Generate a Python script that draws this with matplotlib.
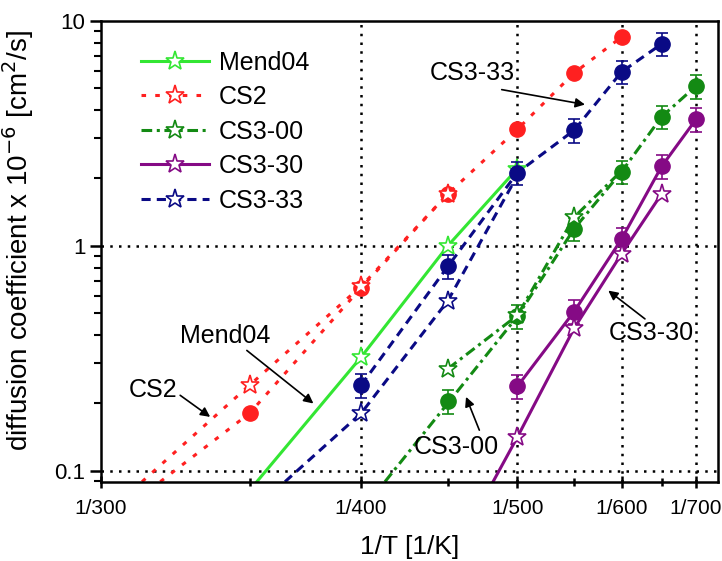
import numpy as np
import matplotlib.pyplot as plt
from matplotlib.ticker import FixedLocator, FixedFormatter, LogLocator, NullFormatter
from matplotlib.lines import Line2D

plt.rcParams['font.family'] = ['Liberation Sans', 'DejaVu Sans']

# x axis: 1/T, ticks at these temperatures
tick_T = [300, 400, 500, 600, 700]
tick_labels = ['1/300', '1/400', '1/500', '1/600', '1/700']
minor_T = [350, 450, 550, 650]
grid_T = [400, 500, 600, 700]
grid_D = [0.1, 1]

# series: circles (with error bars), stars, and the lines through them
names = ['Mend04', 'CS2', 'CS3-00', 'CS3-30', 'CS3-33']
colors = ['#33e633', '#ff2020', '#138a13', '#850a85', '#0a0a85']

circ_T = {
    'CS2': [350, 400, 450, 500, 550, 600],
    'CS3-00': [450, 500, 550, 600, 650, 700],
    'CS3-30': [500, 550, 600, 650, 700],
    'CS3-33': [400, 450, 500, 550, 600, 650],
}
circ_D = {
    'CS2': [0.18, 0.65, 1.7, 3.29, 5.86, 8.46],
    'CS3-00': [0.204, 0.485, 1.19, 2.13, 3.74, 5.12],
    'CS3-30': [0.237, 0.51, 1.07, 2.25, 3.64],
    'CS3-33': [0.24, 0.81, 2.11, 3.26, 5.92, 7.88],
}
star_T = {
    'Mend04': [400, 450, 500],
    'CS2': [350, 400, 450],
    'CS3-00': [450, 500, 550],
    'CS3-30': [500, 550, 600, 650],
    'CS3-33': [400, 450],
}
star_D = {
    'Mend04': [0.32, 1.0, 2.2],
    'CS2': [0.24, 0.66, 1.7],
    'CS3-00': [0.284, 0.49, 1.34],
    'CS3-30': [0.141, 0.43, 0.92, 1.70],
    'CS3-33': [0.18, 0.57],
}
# line paths (first point is where the line leaves the bottom of the frame)
cline_T = {
    'CS2': [318.2, 350, 400, 450, 500, 550, 600],
    'CS3-00': [412.6, 500, 550, 600, 650, 700],
    'CS3-30': [500, 550, 600, 650, 700],
    'CS3-33': [400, 450, 500, 550, 600, 650],
}
cline_D = {
    'CS2': [0.0894, 0.18, 0.65, 1.7, 3.29, 5.86, 8.46],
    'CS3-00': [0.0894, 0.485, 1.19, 2.13, 3.74, 5.12],
    'CS3-30': [0.237, 0.51, 1.07, 2.25, 3.64],
    'CS3-33': [0.24, 0.81, 2.11, 3.26, 5.92, 7.88],
}
sline_T = {
    'Mend04': [352.9, 400, 450, 500],
    'CS2': [312.4, 350, 400, 450],
    'CS3-00': [450, 500, 550, 600],
    'CS3-30': [481.3, 500, 550, 600, 650],
    'CS3-33': [364.5, 400, 450, 500],
}
sline_D = {
    'Mend04': [0.0894, 0.32, 1.0, 2.2],
    'CS2': [0.0894, 0.24, 0.66, 1.7],
    'CS3-00': [0.284, 0.49, 1.34, 2.15],
    'CS3-30': [0.0894, 0.141, 0.43, 0.92, 1.70],
    'CS3-33': [0.0894, 0.18, 0.57, 2.05],
}
rel_err = 0.12

styles = {
    'Mend04': dict(ls='-'),
    'CS2': dict(ls=(0, (1.5, 3))),
    'CS3-00': dict(ls=(0, (3.5, 1.5, 1, 1.5))),
    'CS3-30': dict(ls='-'),
    'CS3-33': dict(ls=(0, (3, 2))),
}

fig = plt.figure(figsize=(7.22, 5.61), dpi=100)
ax = fig.add_axes([100.7/722, 1-481.7/561, 617.3/722, 461/561])
ax.set_yscale('log')
ax.set_xlim(1/300, 1/736.4)
ax.set_ylim(0.0894, 10)

# dotted grid
for t in grid_T:
    ax.axvline(1/t, color='black', lw=1.8, ls=(0, (1, 2.5)), zorder=1)
for d in grid_D:
    ax.axhline(d, color='black', lw=1.8, ls=(0, (1, 2.5)), zorder=1)

lw = 2.2
handles = []
for name, c in zip(names, colors):
    st = styles[name]
    if name in cline_T:
        ax.plot(1/np.array(cline_T[name]), cline_D[name], color=c, lw=lw, zorder=2, **st)
    ax.plot(1/np.array(sline_T[name]), sline_D[name], color=c, lw=lw, zorder=2, **st)
    if name in circ_T:
        d = np.array(circ_D[name])
        if name == 'CS2':
            ax.plot(1/np.array(circ_T[name]), d, 'o', color=c, ms=11, zorder=3)
        else:
            ax.errorbar(1/np.array(circ_T[name]), d, yerr=rel_err*d, fmt='o', color=c,
                        ms=11, capsize=4, elinewidth=1.2, capthick=1.2, zorder=3)
    zs = 2.5 if name == 'Mend04' else 4
    ax.plot(1/np.array(star_T[name]), star_D[name], '*', ms=14, mfc='white', mec=c,
            mew=1.2, ls='none', zorder=zs)
    handles.append(Line2D([], [], color=c, lw=lw, marker='*', ms=14, mfc='white',
                          mec=c, mew=1.2, **st))

ax.legend(handles, names, loc='upper left', bbox_to_anchor=(0.066, 0.935),
          frameon=False, fontsize=18, borderpad=0, borderaxespad=0,
          handlelength=2.7, handletextpad=0.4, labelspacing=0.42)

# annotations
fs = 18
notes = [
    ('CS3-33', (2.1451e-3, 5.84), (1.7837e-3, 4.24), (2.0501e-3, 4.94)),
    ('CS3-30', (1.5709e-3, 0.41), (1.7091e-3, 0.632), (1.5917e-3, 0.473)),
    ('CS3-00', (2.1947e-3, 0.127), (2.1643e-3, 0.213), (2.1217e-3, 0.1515)),
    ('Mend04', (2.9351e-3, 0.399), (2.6527e-3, 0.199), (2.8657e-3, 0.3425)),
    ('CS2', (3.167e-3, 0.228), (2.9831e-3, 0.1735), (3.0790e-3, 0.2164)),
]
for txt, tpos, head, tail in notes:
    ax.text(tpos[0], tpos[1], txt, fontsize=fs, ha='center', va='center', zorder=5)
    ax.annotate('', xy=head, xytext=tail,
                arrowprops=dict(arrowstyle='-|>', color='black', lw=1.2,
                                mutation_scale=14, shrinkA=0, shrinkB=0), zorder=5)

# ticks
ax.xaxis.set_major_locator(FixedLocator([1/t for t in tick_T]))
ax.xaxis.set_major_formatter(FixedFormatter(tick_labels))
ax.xaxis.set_minor_locator(FixedLocator([1/t for t in minor_T]))
ax.xaxis.set_minor_formatter(NullFormatter())
ax.yaxis.set_major_locator(FixedLocator([0.1, 1, 10]))
ax.yaxis.set_major_formatter(FixedFormatter(['0.1', '1', '10']))
ax.yaxis.set_minor_locator(LogLocator(base=10, subs=np.arange(2, 10)))
ax.yaxis.set_minor_formatter(NullFormatter())
ax.tick_params(axis='x', which='major', direction='inout', length=9, width=1.8,
               labelsize=15, pad=8)
ax.tick_params(axis='x', which='minor', direction='inout', length=6, width=1.8)
ax.tick_params(axis='y', which='major', direction='out', length=8, width=1.8,
               labelsize=16, pad=3)
ax.tick_params(axis='y', which='minor', direction='out', length=5, width=1.5)
for s in ax.spines.values():
    s.set_linewidth(1.8)

ax.set_xlabel('1/T [1/K]', fontsize=19)
ax.xaxis.set_label_coords(0.5, -0.115)
ax.set_ylabel('diffusion coefficient x 10$^{-6}$ [cm$^2$/s]', fontsize=20)
ax.yaxis.set_label_coords(-0.105, 0.524)

plt.savefig('out.png', dpi=100)
